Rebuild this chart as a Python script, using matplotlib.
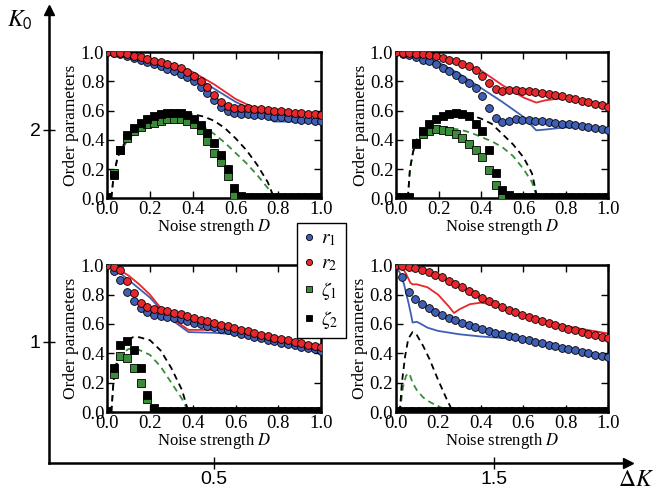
import numpy as np
import matplotlib
matplotlib.use("Agg")
import matplotlib.pyplot as plt

plt.rcParams['font.family'] = 'serif'
plt.rcParams['font.serif'] = ['Liberation Serif', 'DejaVu Serif']
plt.rcParams['mathtext.fontset'] = 'stix'

# noise grid of the simulation points (33 points, 0..1)
D = np.linspace(0, 1, 33)

# ---- top-left panel (dK=0.5, K0=2) ----
tl_r1 = [1.0, 0.994, 0.985, 0.973, 0.96, 0.948, 0.935, 0.922, 0.905, 0.888, 0.872, 0.853, 0.83,
         0.80, 0.765, 0.72, 0.67, 0.625, 0.597, 0.586, 0.58, 0.576, 0.572, 0.567, 0.562, 0.557,
         0.553, 0.548, 0.543, 0.539, 0.535, 0.531, 0.527]
tl_r2 = [1.0, 0.997, 0.993, 0.985, 0.975, 0.967, 0.955, 0.943, 0.93, 0.918, 0.905, 0.89, 0.866,
         0.84, 0.805, 0.76, 0.71, 0.66, 0.632, 0.621, 0.618, 0.615, 0.612, 0.609, 0.604, 0.6,
         0.596, 0.591, 0.587, 0.582, 0.578, 0.574, 0.57]
tl_z1 = [0.0, 0.17, 0.33, 0.41, 0.46, 0.485, 0.505, 0.515, 0.53, 0.54, 0.545, 0.54, 0.53, 0.505,
         0.465, 0.395, 0.31, 0.245, 0.155, 0.02] + [0.0] * 13
tl_z2 = [0.005, 0.16, 0.33, 0.43, 0.48, 0.515, 0.54, 0.56, 0.575, 0.581, 0.585, 0.582, 0.57, 0.545,
         0.5, 0.45, 0.38, 0.295, 0.2, 0.07, 0.015] + [0.01] * 12
tl_r1_th_x = [0, .1, .2, .3, .4, .5, .6, .7, .78, .85, 1.0]
tl_r1_th = [1.0, 0.975, 0.94, 0.9, 0.845, 0.75, 0.66, 0.59, 0.525, 0.525, 0.525]
tl_r2_th_x = [0, .1, .2, .3, .4, .5, .6, .7, .78, .85, 1.0]
tl_r2_th = [1.0, 0.98, 0.955, 0.92, 0.865, 0.78, 0.68, 0.61, 0.565, 0.568, 0.57]
tl_z_th_x = [0.02, 0.03, 0.05, 0.1, 0.15, 0.2, 0.25, 0.3, 0.35, 0.4, 0.45, 0.5, 0.55, 0.6, 0.65, 0.7, 0.75, 0.78]
tl_z1_th = [0, 0.15, 0.28, 0.41, 0.47, 0.5, 0.52, 0.53, 0.53, 0.515, 0.49, 0.44, 0.38, 0.31, 0.24, 0.16, 0.07, 0.0]
tl_z2_th = [0, 0.15, 0.29, 0.43, 0.5, 0.54, 0.565, 0.58, 0.58, 0.575, 0.56, 0.53, 0.48, 0.41, 0.33, 0.23, 0.11, 0.0]

# ---- top-right panel (dK=1.5, K0=2) ----
tr_r1 = [1.0, 0.99, 0.98, 0.97, 0.95, 0.937, 0.918, 0.895, 0.87, 0.845, 0.82, 0.79, 0.755, 0.70,
         0.615, 0.55, 0.525, 0.532, 0.54, 0.538, 0.535, 0.532, 0.528, 0.521, 0.516, 0.511, 0.505,
         0.499, 0.494, 0.488, 0.482, 0.476, 0.47]
tr_r2 = [1.0, 0.997, 0.994, 0.99, 0.985, 0.979, 0.972, 0.962, 0.95, 0.937, 0.922, 0.904, 0.88,
         0.84, 0.79, 0.75, 0.735, 0.738, 0.74, 0.737, 0.733, 0.729, 0.723, 0.716, 0.708, 0.698,
         0.688, 0.679, 0.668, 0.658, 0.647, 0.636, 0.625]
tr_z1 = [0.0, 0.0, 0.0, 0.37, 0.44, 0.46, 0.475, 0.47, 0.46, 0.44, 0.41, 0.37, 0.33, 0.28, 0.19,
         0.09, 0.0] + [0.0] * 16
tr_z2 = [0.01, 0.01, 0.01, 0.38, 0.46, 0.505, 0.54, 0.56, 0.575, 0.584, 0.578, 0.56, 0.505, 0.46,
         0.33, 0.17, 0.057, 0.025] + [0.01] * 15
tr_r_th_x = [0, .1, .2, .3, .4, .5, .6, .66, .7, .75, .8, .9, 1.0]
tr_r1_th = [1.0, 0.975, 0.93, 0.85, 0.755, 0.66, 0.557, 0.465, 0.47, 0.478, 0.485, 0.488, 0.48]
tr_r2_th = [1.0, 0.99, 0.97, 0.935, 0.875, 0.775, 0.69, 0.655, 0.67, 0.68, 0.68, 0.665, 0.64]
tr_z_th_x = [0.055, 0.065, 0.08, 0.1, 0.15, 0.2, 0.25, 0.3, 0.35, 0.4, 0.45, 0.5, 0.55, 0.6, 0.64, 0.665]
tr_z1_th = [0, 0.2, 0.32, 0.39, 0.46, 0.48, 0.48, 0.47, 0.45, 0.42, 0.39, 0.35, 0.29, 0.2, 0.11, 0.0]
tr_z2_th = [0, 0.2, 0.32, 0.41, 0.5, 0.545, 0.57, 0.58, 0.57, 0.545, 0.51, 0.44, 0.37, 0.28, 0.17, 0.0]

# ---- bottom-left panel (dK=0.5, K0=1) ----
bl_r1 = [1.0, 0.96, 0.9, 0.815, 0.755, 0.712, 0.68, 0.662, 0.655, 0.649, 0.641, 0.632, 0.621,
         0.61, 0.599, 0.588, 0.577, 0.566, 0.556, 0.545, 0.534, 0.524, 0.514, 0.504, 0.494, 0.484,
         0.474, 0.464, 0.455, 0.445, 0.436, 0.427, 0.418]
bl_r2 = [1.0, 0.988, 0.97, 0.895, 0.81, 0.74, 0.715, 0.702, 0.695, 0.686, 0.677, 0.666, 0.655,
         0.643, 0.63, 0.618, 0.606, 0.594, 0.583, 0.571, 0.561, 0.55, 0.539, 0.528, 0.518, 0.508,
         0.498, 0.488, 0.478, 0.469, 0.46, 0.452, 0.446]
bl_z1 = [0.0, 0.26, 0.38, 0.37, 0.3, 0.2, 0.09, 0.0] + [0.0] * 25
bl_z2 = [0.005, 0.3, 0.46, 0.485, 0.42, 0.3, 0.12, 0.025] + [0.01] * 25
bl_r_th_x = [0, .05, .1, .15, .2, .25, .3, .38, .5, .6, .7, .8, .9, 1.0]
bl_r1_th = [1.0, 0.96, 0.9, 0.84, 0.78, 0.7, 0.63, 0.545, 0.54, 0.53, 0.51, 0.48, 0.45, 0.42]
bl_r2_th = [1.0, 0.975, 0.93, 0.87, 0.8, 0.71, 0.64, 0.56, 0.56, 0.555, 0.535, 0.505, 0.475, 0.45]
bl_z1_th_x = [0.02, 0.03, 0.045, 0.07, 0.1, 0.14, 0.2, 0.25, 0.3, 0.35, 0.38]
bl_z1_th = [0, 0.2, 0.32, 0.4, 0.43, 0.43, 0.39, 0.31, 0.2, 0.09, 0.0]
bl_z2_th_x = [0.02, 0.03, 0.05, 0.08, 0.12, 0.15, 0.2, 0.25, 0.3, 0.35, 0.38]
bl_z2_th = [0, 0.22, 0.38, 0.47, 0.51, 0.51, 0.49, 0.42, 0.3, 0.15, 0.0]

# ---- bottom-right panel (dK=1.5, K0=1) ----
br_r1 = [1.0, 0.92, 0.82, 0.77, 0.735, 0.71, 0.68, 0.66, 0.642, 0.625, 0.609, 0.593, 0.58, 0.567,
         0.555, 0.542, 0.53, 0.52, 0.51, 0.5, 0.49, 0.48, 0.47, 0.46, 0.45, 0.44, 0.43, 0.42, 0.41,
         0.401, 0.392, 0.383, 0.375]
br_r2 = [1.0, 0.994, 0.987, 0.978, 0.965, 0.952, 0.936, 0.917, 0.893, 0.871, 0.849, 0.826, 0.803,
         0.78, 0.758, 0.737, 0.717, 0.698, 0.681, 0.664, 0.648, 0.633, 0.618, 0.605, 0.592, 0.579,
         0.567, 0.556, 0.544, 0.533, 0.523, 0.513, 0.503]
br_z1 = [0.0] * 33
br_z2 = [0.005] + [0.01] * 32
br_r1_th_x = [0, .02, .04, .06, .075, .08, .1, .12, .15, .2, .3, .4, .5, .6, .7, .8, .9, 1.0]
br_r1_th = [1.0, 0.95, 0.87, 0.75, 0.65, 0.61, 0.615, 0.6, 0.575, 0.553, 0.53, 0.515, 0.505, 0.49,
            0.462, 0.433, 0.405, 0.378]
br_r2_th_x = [0, .03, .05, .07, .08, .1, .15, .2, .25, .275, .3, .35, .4, .45, .5, .6, .7, .8, .9, 1.0]
br_r2_th = [1.0, 0.99, 0.94, 0.88, 0.87, 0.87, 0.85, 0.8, 0.72, 0.675, 0.7, 0.735, 0.745, 0.735,
            0.715, 0.665, 0.62, 0.585, 0.56, 0.535]
br_z1_th_x = [0.02, 0.035, 0.05, 0.065, 0.08, 0.1, 0.13, 0.16, 0.2, 0.24, 0.27]
br_z1_th = [0, 0.17, 0.25, 0.265, 0.2, 0.15, 0.1, 0.07, 0.04, 0.015, 0.0]
br_z2_th_x = [0.02, 0.03, 0.045, 0.06, 0.08, 0.1, 0.13, 0.16, 0.2, 0.24, 0.27]
br_z2_th = [0, 0.2, 0.38, 0.5, 0.545, 0.525, 0.45, 0.36, 0.22, 0.09, 0.0]

dK_ticks = [0.5, 1.5]
K0_ticks = [1, 2]

blue, red, green = '#3f5fb5', '#e8272c', '#3a8c3a'

panels = [
    ([0.163, 0.598, 0.326, 0.296], tl_r1, tl_r2, tl_z1, tl_z2,
     (tl_r1_th_x, tl_r1_th), (tl_r2_th_x, tl_r2_th), (tl_z_th_x, tl_z1_th), (tl_z_th_x, tl_z2_th)),
    ([0.603, 0.598, 0.323, 0.296], tr_r1, tr_r2, tr_z1, tr_z2,
     (tr_r_th_x, tr_r1_th), (tr_r_th_x, tr_r2_th), (tr_z_th_x, tr_z1_th), (tr_z_th_x, tr_z2_th)),
    ([0.163, 0.164, 0.326, 0.298], bl_r1, bl_r2, bl_z1, bl_z2,
     (bl_r_th_x, bl_r1_th), (bl_r_th_x, bl_r2_th), (bl_z1_th_x, bl_z1_th), (bl_z2_th_x, bl_z2_th)),
    ([0.602, 0.164, 0.324, 0.298], br_r1, br_r2, br_z1, br_z2,
     (br_r1_th_x, br_r1_th), (br_r2_th_x, br_r2_th), (br_z1_th_x, br_z1_th), (br_z2_th_x, br_z2_th)),
]

fig = plt.figure(figsize=(6.57, 4.93), dpi=100)

# big outer axes with arrows
bg = fig.add_axes([49/657, 1 - 463/493, (628 - 49)/657, (463 - 10)/493])
bg.patch.set_visible(False)
bg.set_xlim(-0.089, 1.979)
bg.set_ylim(0.429, 2.566)
for s in ['top', 'right']:
    bg.spines[s].set_visible(False)
for s in ['left', 'bottom']:
    bg.spines[s].set_linewidth(1.8)
bg.set_xticks(dK_ticks)
bg.set_xticklabels([str(v) for v in dK_ticks], family='Liberation Sans', fontsize=14)
bg.set_yticks(K0_ticks)
bg.set_yticklabels([str(v) for v in K0_ticks], family='Liberation Sans', fontsize=14)
bg.tick_params(direction='inout', length=8, width=1, pad=2)
bg.plot([1], [0], '>', color='k', ms=7, transform=bg.transAxes, clip_on=False)
bg.plot([0], [1], '^', color='k', ms=7, transform=bg.transAxes, clip_on=False)
fig.text(20/657, 1 - 20/493, r'$K_\mathsf{0}$', fontsize=17, ha='center', va='center')
fig.text(636/657, 1 - 481/493, r'$\Delta K$', fontsize=17, ha='center', va='center')

handles = None
for rect, r1, r2, z1, z2, r1th, r2th, z1th, z2th in panels:
    ax = fig.add_axes(rect)
    ax.plot(*r1th, color=blue, lw=1.3, zorder=2)
    ax.plot(*r2th, color=red, lw=1.3, zorder=2)
    ax.plot(*z1th, color=green, lw=1.3, ls=(0, (3.5, 2.5)), zorder=2)
    ax.plot(*z2th, color='k', lw=1.3, ls=(0, (3.5, 2.5)), zorder=2)
    h1, = ax.plot(D, r1, 'o', color=blue, mec='k', mew=0.6, ms=5.6, zorder=3)
    h2, = ax.plot(D, r2, 'o', color=red, mec='k', mew=0.6, ms=5.6, zorder=3)
    h3, = ax.plot(D, z1, 's', color=green, mec='k', mew=0.6, ms=5.2, zorder=3)
    h4, = ax.plot(D, z2, 's', color='k', mec='k', mew=0.6, ms=5.2, zorder=3)
    if handles is None:
        handles = [h1, h2, h3, h4]
    ax.set_xlim(0, 1)
    ax.set_ylim(0, 1)
    ax.set_xticks(np.arange(0, 1.01, 0.2))
    ax.set_yticks(np.arange(0, 1.01, 0.2))
    ax.tick_params(direction='in', top=True, right=True, length=5, width=1, labelsize=13.5, pad=2)
    for s in ax.spines.values():
        s.set_linewidth(1.8)
    ax.set_xlabel('Noise strength $D$', fontsize=12, labelpad=-1)
    ax.set_ylabel('Order parameters', fontsize=12.5, labelpad=1)

leg = fig.legend(handles, [r'$r_1$', r'$r_2$', r'$\zeta_1$', r'$\zeta_2$'],
                 loc='upper left', bbox_to_anchor=(297/657, 1 - 223/493),
                 fancybox=False, edgecolor='k', framealpha=1, fontsize=14,
                 handlelength=0.5, handletextpad=0.4, markerscale=0.8,
                 labelspacing=0.35, borderpad=0.35, borderaxespad=0)
leg.get_frame().set_linewidth(1.0)

fig.savefig('out.png', dpi=100)
